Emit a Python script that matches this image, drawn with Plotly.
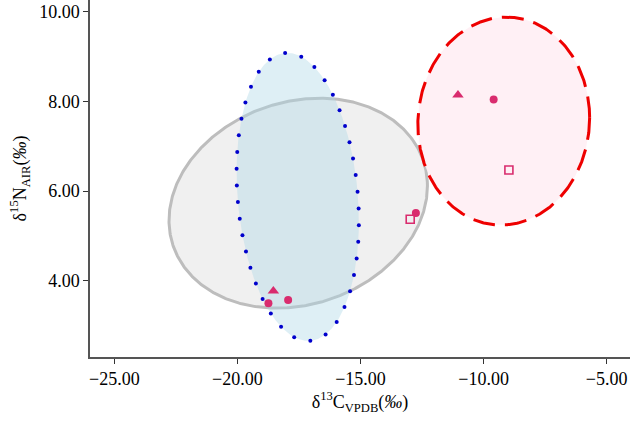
import numpy as np
import plotly.graph_objects as go

# ---- data ----
circle_x = [-9.59, -12.75, -18.74, -17.94]
circle_y = [8.04, 5.51, 3.50, 3.57]
triangle_x = [-11.04, -18.54]
triangle_y = [8.14, 3.77]
square_x = [-8.97, -12.98]
square_y = [6.47, 5.37]

# ellipse parameters: centre and two conjugate semi-axis vectors (data units)
gray_ell = dict(cx=-17.53, cy=5.73, ax=5.25, ay=0.384, bx=0.0, by=-2.309)
blue_ell = dict(cx=-17.55, cy=5.87, ax=-0.512, ay=3.209, bx=2.431, by=0.116)
red_ell = dict(cx=-9.18, cy=7.56, ax=3.49, ay=0.073, bx=0.0, by=-2.317)

x_ticks = [-25, -20, -15, -10, -5]
y_ticks = [4, 6, 8, 10]

PX_X, PX_Y = 24.6, 45.0  # approx pixels per data unit (for dot spacing)


def ellipse(e, n=600):
    t = np.linspace(0, 2 * np.pi, n)
    x = e["cx"] + e["ax"] * np.cos(t) + e["bx"] * np.sin(t)
    y = e["cy"] + e["ay"] * np.cos(t) + e["by"] * np.sin(t)
    return x, y


def dotted(e, spacing=16.8):
    x, y = ellipse(e, 4000)
    d = np.hypot(np.diff(x) * PX_X, np.diff(y) * PX_Y)
    s = np.concatenate([[0], np.cumsum(d)])
    n = int(round(s[-1] / spacing))
    si = np.linspace(0, s[-1], n, endpoint=False)
    return np.interp(si, s, x), np.interp(si, s, y)


fig = go.Figure()

gx, gy = ellipse(gray_ell)
fig.add_trace(go.Scatter(x=gx, y=gy, mode="lines", fill="toself",
                         fillcolor="rgba(240,240,240,1)",
                         line=dict(color="#bdbdbd", width=3),
                         hoverinfo="skip", showlegend=False))

bx, by = ellipse(blue_ell)
fig.add_trace(go.Scatter(x=bx, y=by, mode="lines", fill="toself",
                         fillcolor="rgba(173,216,230,0.4)",
                         line=dict(width=0, color="rgba(0,0,0,0)"),
                         hoverinfo="skip", showlegend=False))
dx, dy = dotted(blue_ell)
fig.add_trace(go.Scatter(x=dx, y=dy, mode="markers",
                         marker=dict(color="#0000cc", size=4),
                         hoverinfo="skip", showlegend=False))

rx, ry = ellipse(red_ell)
fig.add_trace(go.Scatter(x=rx, y=ry, mode="lines", fill="toself",
                         fillcolor="rgba(255,238,244,0.9)",
                         line=dict(color="#ee0000", width=3, dash="22px,10px"),
                         hoverinfo="skip", showlegend=False))

pc = "#d92c6e"
fig.add_trace(go.Scatter(x=circle_x, y=circle_y, mode="markers",
                         marker=dict(symbol="circle", size=8, color=pc),
                         showlegend=False))
fig.add_trace(go.Scatter(x=triangle_x, y=triangle_y, mode="markers",
                         marker=dict(symbol="triangle-up", size=10, color=pc),
                         showlegend=False))
fig.add_trace(go.Scatter(x=square_x, y=square_y, mode="markers",
                         marker=dict(symbol="square-open", size=8, color=pc,
                                     line=dict(width=1.6, color=pc)),
                         showlegend=False))

font = dict(family="Liberation Serif, Times New Roman, serif", size=18, color="black")

fig.update_layout(
    width=631, height=421,
    margin=dict(l=90, r=1, t=0, b=64),
    paper_bgcolor="white", plot_bgcolor="white",
    font=font,
    xaxis=dict(range=[-25.99, -4.05], tickvals=x_ticks, tickformat=".2f",
               showgrid=False, zeroline=False, showline=True, automargin=False,
               linecolor="#555555", linewidth=1.5,
               ticks="outside", ticklen=5, tickcolor="#333333",
               title=dict(text="δ<sup>13</sup>C<sub>VPDB</sub>(<i>‰</i>)",
                          font=font, standoff=4)),
    yaxis=dict(range=[2.30, 10.26], tickvals=y_ticks, tickformat=".2f",
               showgrid=False, zeroline=False, showline=True, automargin=False,
               linecolor="#555555", linewidth=1.5,
               ticks="outside", ticklen=5, tickcolor="#333333",
               title=dict(text="δ<sup>15</sup>N<sub>AIR</sub>(<i>‰</i>)",
                          font=font, standoff=8)),
)

fig.write_html("out.html",
               config={"displayModeBar": False},
               post_script="document.body.style.margin='0';"
                           "document.body.style.overflow='hidden';")
